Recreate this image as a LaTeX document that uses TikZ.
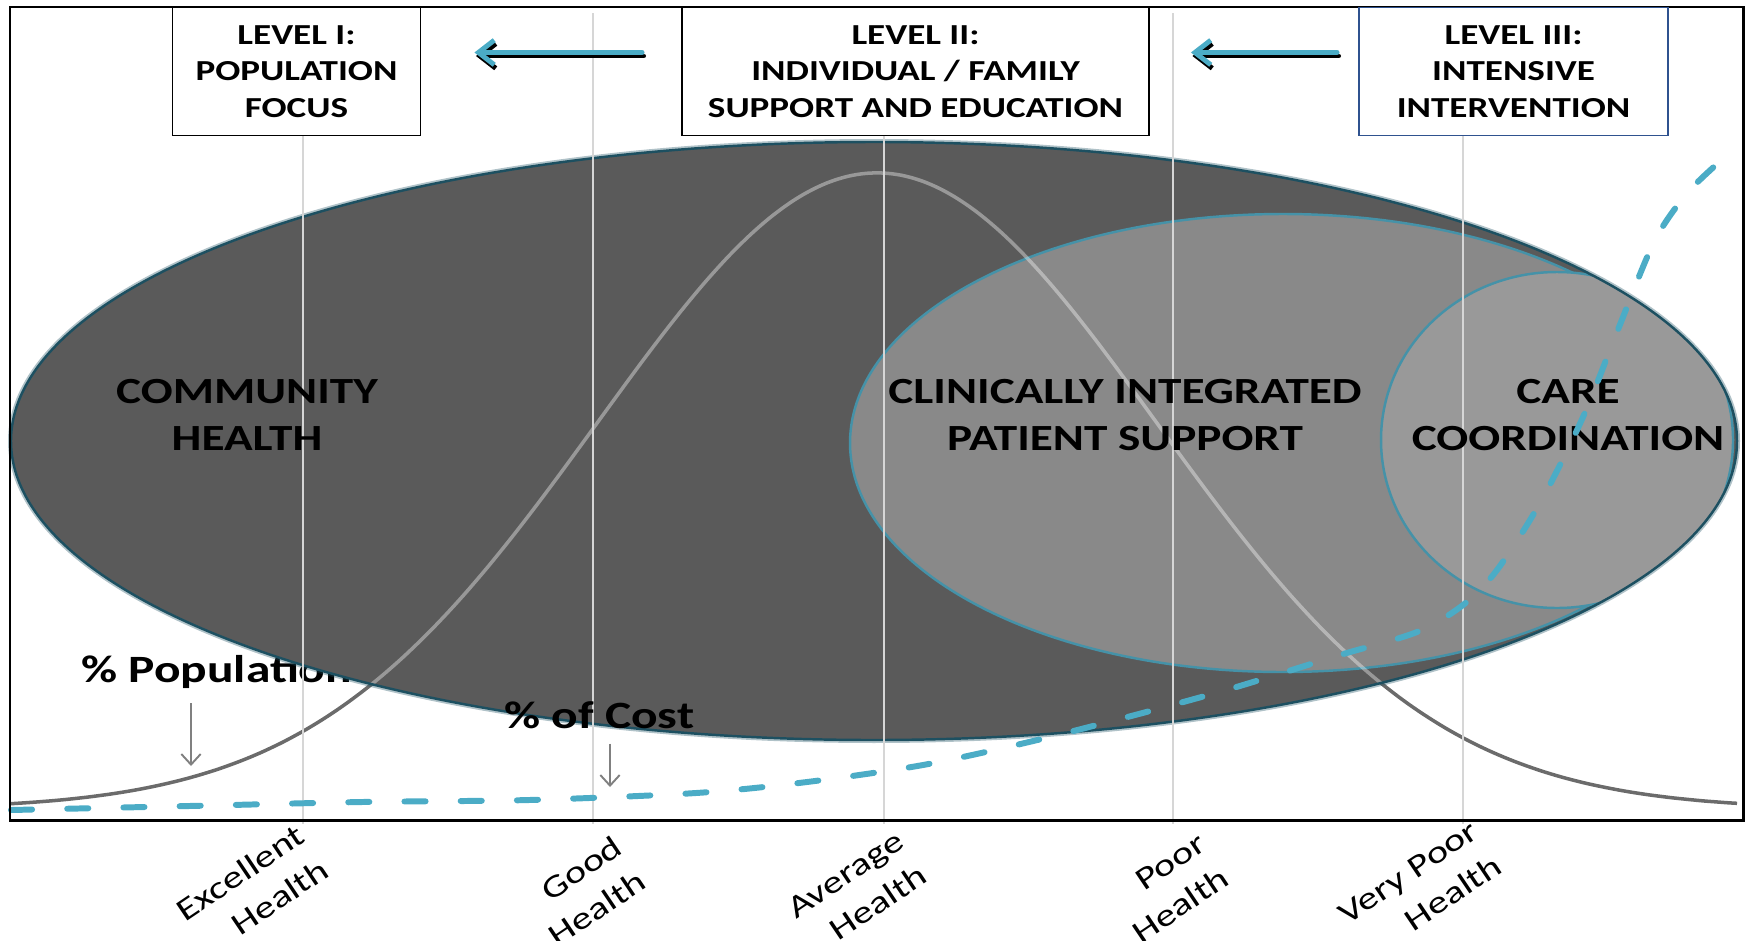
\documentclass[tikz,border=0pt]{standalone}
\usepackage{fontspec}
\setmainfont{Carlito}[FakeStretch=1.28]
\usepackage{tikz}
\usetikzlibrary{arrows.meta,positioning,calc}
\definecolor{aqua}{HTML}{4BACC6}
\definecolor{darkteal}{HTML}{1D5061}
\definecolor{midteal}{HTML}{4592A8}
\definecolor{shellgray}{HTML}{5A5A5A}
\definecolor{midgray}{HTML}{898989}
\definecolor{coregray}{HTML}{999999}
\definecolor{gridgray}{HTML}{D6D6D6}
\definecolor{popgray}{HTML}{6B6B6B}
\definecolor{pointergray}{HTML}{808080}
\definecolor{lvlblue}{HTML}{2F528F}

\begin{document}
\begin{tikzpicture}[x=0.02cm,y=-0.02cm,
    lvlbox/.style={draw=black,line width=1.1pt,fill=white,align=center,inner sep=0pt,
      minimum height=2.56cm,font=\fontsize{16.5}{20.7}\selectfont\bfseries},
    zone/.style={align=center,font=\fontsize{21}{26.6}\selectfont\bfseries},
    curvelab/.style={anchor=base west,inner sep=0pt,font=\fontsize{22}{22}\selectfont\bfseries},
    ticklab/.style={align=right,rotate=34,inner sep=0pt,font=\fontsize{18}{24}\selectfont},
    gridln/.style={draw=gridgray,line width=1.4pt},
    cost/.style={draw=aqua,line width=3.4pt,line cap=round,dash pattern=on 12pt off 20pt},
    pointer/.style={-{Straight Barb[length=6pt,width=11pt]},draw=pointergray,line width=1.1pt,
      shorten <=8.5pt},
    lvlarrow/.style={-{Straight Barb[length=9pt,width=14pt]},line width=2.8pt,line cap=round}]
\useasboundingbox (0,0) rectangle (1746,940);
% ===== % population bell curve, dark part outside the shells =====
\draw[popgray,line width=2pt] plot[domain=11:1737,samples=160,smooth]
  (\x,{809-636*exp(-0.5*((\x-877)/280)^2)});
\node[curvelab] (poplab) at (81,682) {\% Population};
% ===== community shell =====
\draw[darkteal,opacity=0.35,line width=3.4pt] (874,441) ellipse [x radius=863,y radius=299];
\fill[shellgray] (874,441) ellipse [x radius=863,y radius=299];
\begin{scope}
  \clip (874,441) ellipse [x radius=863,y radius=299];
  \filldraw[fill=midgray,draw=midteal,line width=1.4pt] (1283,443) ellipse [x radius=433,y radius=229];
  \filldraw[fill=coregray,draw=midteal,line width=1.4pt] (1557,440) ellipse [x radius=176,y radius=168];
  \draw[white,opacity=0.38,line width=2pt] plot[domain=11:1737,samples=160,smooth]
    (\x,{809-636*exp(-0.5*((\x-877)/280)^2)});
\end{scope}
\draw[darkteal,line width=1.4pt] (874,441) ellipse [x radius=863,y radius=299];
% ===== health level grid =====
\foreach \gx in {303,593,884,1173,1463}
  \draw[gridln] (\gx,13) -- (\gx,824);
% ===== zone labels =====
\node[zone] (community) at (247,415) {COMMUNITY\\HEALTH};
\node[zone] (clinical) at (1125,415) {CLINICALLY INTEGRATED\\PATIENT SUPPORT};
\node[zone] (care) at (1568,415) {CARE\\COORDINATION};
% ===== curve labels and pointers =====
\node[curvelab] (costlab) at (504,728) {\% of Cost};
\coordinate (poptip) at (191,766);
\coordinate (costtip) at (610,787);
\draw[pointer] (poplab.south -| poptip) -- (poptip);
\draw[pointer] (costlab.south -| costtip) -- (costtip);
% ===== % of cost curve =====
\draw[cost] plot[smooth] coordinates {(11,810) (189,806) (362,802) (529,800) (696,793)
  (807,782) (923,765) (1029,742) (1135,715) (1233,688) (1340,655) (1417,632) (1463,605)
  (1497,570) (1540,503) (1583,417) (1619,327) (1655,240) (1690,190) (1733,150)};
% ===== frame and x labels =====
\draw[line width=1.7pt] (10,7) rectangle (1743,820);
\foreach \lx/\ly/\txt [count=\i] in {252/890/{Excellent\\Health},585/891/{Good\\Health},
    857/892/{Average\\Health},1169/888/{Poor\\Health},1420/890/{Very Poor\\Health}}
  \node[ticklab] (tick\i) at (\lx,\ly) {\txt};
% ===== level boxes =====
\node[lvlbox,minimum width=4.96cm] (lvlone) at (296.5,71.5) {LEVEL I:\\POPULATION\\FOCUS};
\node[lvlbox,minimum width=9.34cm] (lvltwo) at (915.5,71.5) {LEVEL II:\\INDIVIDUAL / FAMILY\\SUPPORT AND EDUCATION};
\node[lvlbox,minimum width=6.18cm,draw=lvlblue] (lvlthree) at (1513.5,71.5) {LEVEL III:\\INTENSIVE\\INTERVENTION};
% ===== escalation arrows (shadow, then colour) =====
\foreach \src/\dst/\ts/\te in {lvltwo/lvlone/-39/53,lvlthree/lvltwo/-21/41}{
  \draw[lvlarrow,black,transform canvas={shift={(1.5,3.5)}}]
    ([shift={(\ts,-19)}]\src.west) -- ([shift={(\te,-19)}]\dst.east);
  \draw[lvlarrow,aqua] ([shift={(\ts,-19)}]\src.west) -- ([shift={(\te,-19)}]\dst.east);
}
\end{tikzpicture}
\end{document}
